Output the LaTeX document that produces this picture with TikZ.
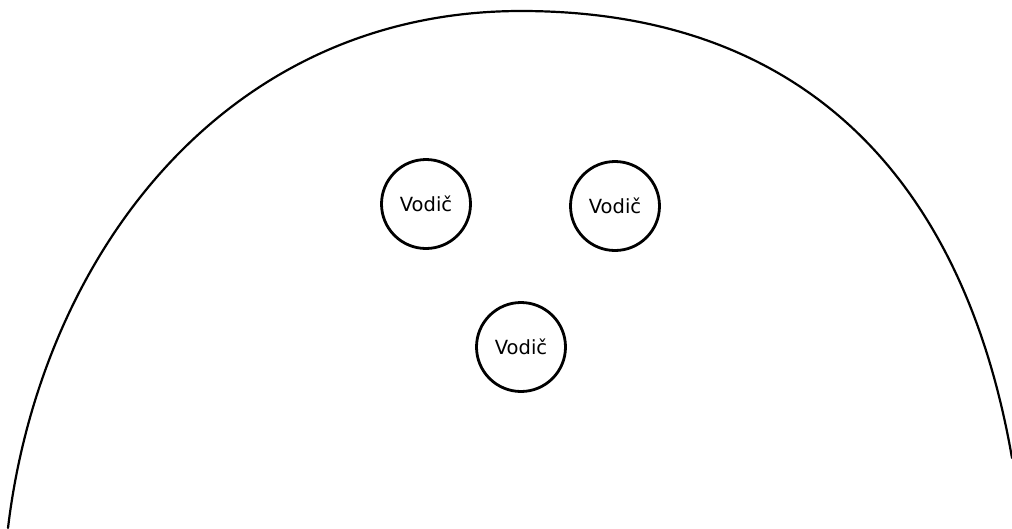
\documentclass[tikz,border=0pt]{standalone}
\usepackage{fontspec}
\setmainfont{DejaVu Sans}
\begin{document}
\begin{tikzpicture}[x=1pt,y=-1pt,
  outline/.style={line width=2.2pt,line cap=round},
  wire/.style={circle,draw,line width=2.8pt,minimum size=89pt,inner sep=0pt,
    font=\fontsize{19.5}{22}\selectfont}]
  \useasboundingbox (0,0) rectangle (1012,528);
  % outer boundary
  \draw[outline] (8,528) .. controls (40,260) and (221,11) .. (521,11)
                        .. controls (821,11) and (967,199) .. (1012,458);
  % conductors
  \node[wire] (w1) at (426,204) {Vodič};
  \node[wire] (w2) at (615,206) {Vodič};
  \node[wire] (w3) at (521,347) {Vodič};
\end{tikzpicture}
\end{document}
